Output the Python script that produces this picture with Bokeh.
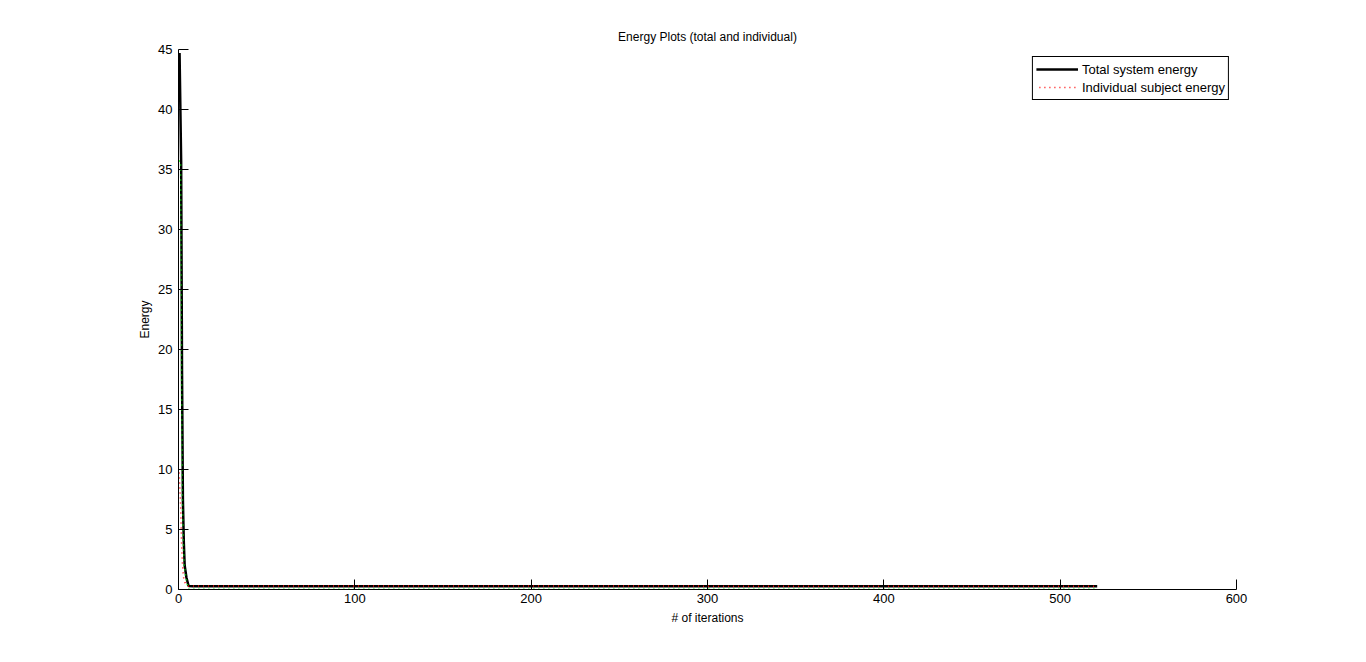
from bokeh.plotting import figure
from bokeh.models import Range1d, Legend, LegendItem, FixedTicker
from bokeh.embed import file_html
from bokeh.resources import INLINE

# Iterations and energies
iters = [0.6, 1.5, 2.0, 2.5, 3.0, 3.5, 4.5, 5.7, 8, 20, 42, 100, 216, 300, 400, 521]
total_energy = [44.7, 35.7, 18.0, 7.5, 4.0, 2.0, 1.0, 0.3, 0.28, 0.28, 0.28, 0.28, 0.28, 0.27, 0.27, 0.27]
subj_iters = [0.3, 1.2, 1.7, 2.2, 2.7, 3.2, 4.2, 5.5, 8, 20, 100, 216, 300, 400, 521]
subj1_energy = [10.0, 7.0, 4.0, 2.2, 1.2, 0.7, 0.45, 0.3, 0.3, 0.3, 0.3, 0.3, 0.28, 0.28, 0.28]
subj2_energy = [35.7, 35.7, 18.0, 7.5, 4.0, 2.0, 1.0, 0.05, 0.05, 0.05, 0.05, 0.05, 0.05, 0.05, 0.05]

x_ticks = [0, 100, 200, 300, 400, 500, 600]
y_ticks = [0, 5, 10, 15, 20, 25, 30, 35, 40, 45]

FONT = "Liberation Sans"

p = figure(width=1358, height=654, output_backend="svg", toolbar_location=None,
           x_range=Range1d(0, 600), y_range=Range1d(0, 45),
           frame_width=1058, frame_height=540,
           min_border_left=178, min_border_right=122, min_border_top=49, min_border_bottom=65,
           title="Energy Plots (total and individual)")
p.title.align = "center"
p.title.text_font = FONT
p.title.text_font_size = "12px"
p.title.text_font_style = "normal"
p.title.text_color = "black"
p.title.offset = 0
p.title.standoff = 12

p.outline_line_color = None
p.grid.visible = False
p.background_fill_color = "white"
p.border_fill_color = "white"

for ax in (p.xaxis[0], p.yaxis[0]):
    ax.major_tick_in = 10
    ax.major_tick_out = 0
    ax.minor_tick_line_color = None
    ax.axis_line_color = "black"
    ax.major_tick_line_color = "black"
    ax.major_label_text_font = FONT
    ax.major_label_text_font_size = "13px"
    ax.major_label_text_color = "black"
    ax.axis_label_text_font = FONT
    ax.axis_label_text_font_size = "12px"
    ax.axis_label_text_font_style = "normal"
    ax.axis_label_text_color = "black"

p.xaxis[0].ticker = FixedTicker(ticks=x_ticks)
p.yaxis[0].ticker = FixedTicker(ticks=y_ticks)
p.xaxis[0].axis_label = "# of iterations"
p.yaxis[0].axis_label = "Energy"
p.xaxis[0].major_label_standoff = 4
p.yaxis[0].major_label_standoff = 6
p.xaxis[0].axis_label_standoff = 5
p.yaxis[0].axis_label_standoff = 3

g_sub2 = p.line(subj_iters, subj2_energy, line_color="#00ff00", line_width=1.5, line_dash="1 4")
g_sub1 = p.line(subj_iters, subj1_energy, line_color="#ff0000", line_width=1.5, line_dash="1 4", line_dash_offset=2)
g_tot = p.line(iters, total_energy, line_color="black", line_width=2.5)
p.renderers.remove(g_sub2)
p.renderers.remove(g_sub1)
p.renderers.append(g_sub2)
p.renderers.append(g_sub1)

legend = Legend(items=[LegendItem(label="Total system energy", renderers=[g_tot]),
                       LegendItem(label="Individual subject energy", renderers=[g_sub1])],
                location="top_right", margin=7, padding=3, spacing=0,
                glyph_width=42, glyph_height=18, label_height=18,
                label_text_font=FONT, label_text_font_size="13px", label_text_color="black",
                border_line_color="black", border_line_width=1, border_line_alpha=1.0,
                background_fill_alpha=1.0, label_standoff=4)
p.add_layout(legend, "center")

open("out.html", "w").write(file_html(p, INLINE))
